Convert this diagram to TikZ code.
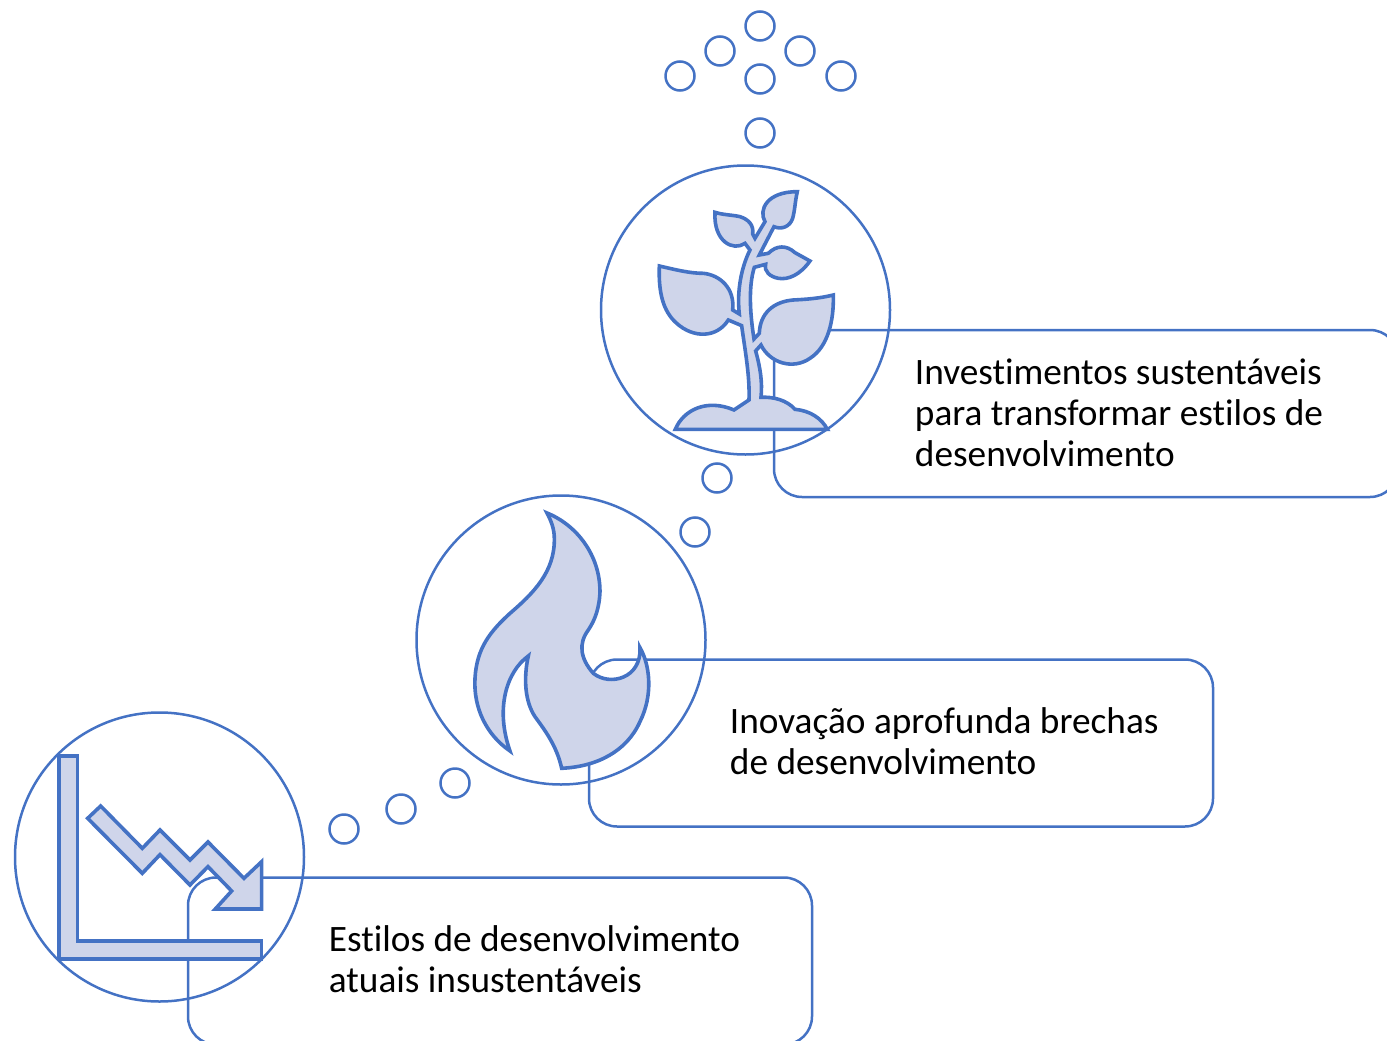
\documentclass[tikz,border=0pt]{standalone}
\usepackage{fontspec}
\setmainfont[RawFeature={-liga}]{Carlito}
\definecolor{lineblue}{HTML}{4472C4}
\definecolor{iconfill}{HTML}{CFD5EA}
\tikzset{
  bigcircle/.style={circle, draw=lineblue, line width=2.5pt, minimum size=289pt, inner sep=0pt},
  dotcircle/.style={circle, draw=lineblue, line width=2.5pt, minimum size=29pt, inner sep=0pt},
  infobox/.style={draw=lineblue, line width=2.5pt, rounded corners=28pt, minimum width=624pt, minimum height=167pt, inner sep=0pt},
  infotext/.style={anchor=west, align=left, inner sep=0pt, font=\fontsize{37.3}{41}\selectfont},
  icon/.style={draw=lineblue, fill=iconfill, line width=3.6pt, line join=miter}
}
\begin{document}
\begin{tikzpicture}[x=1pt,y=-1pt]
\useasboundingbox (0,0) rectangle (1387,1041);
% boxes
\node[infobox] (boxplant) at (1086,413.5) {};
\node[infobox] (boxflame) at (901,743) {};
\node[infobox] (boxchart) at (500,961) {};
\node[infotext] (textplant) at ([xshift=142pt, yshift=1pt]boxplant.west) {Investimentos sustentáveis\\para transformar estilos de\\desenvolvimento};
\node[infotext] (textflame) at ([xshift=142pt, yshift=2pt]boxflame.west) {Inovação aprofunda brechas\\de desenvolvimento};
\node[infotext] (textchart) at ([xshift=142pt, yshift=2pt]boxchart.west) {Estilos de desenvolvimento\\atuais insustentáveis};
% big circles
\node[bigcircle] (circplant) at (745.5,310) {};
\node[bigcircle] (circflame) at (561,640) {};
\node[bigcircle] (circchart) at (159.5,857) {};
% small circles
\node[dotcircle] (dota) at (760,26) {};
\node[dotcircle] (dotb) at (720,51) {};
\node[dotcircle] (dotc) at (800,51) {};
\node[dotcircle] (dotd) at (680,76) {};
\node[dotcircle] (dote) at (841,76) {};
\node[dotcircle] (dotf) at (760,79) {};
\node[dotcircle] (dotg) at (760,133) {};
\node[dotcircle] (doth) at (717,478) {};
\node[dotcircle] (doti) at (695,532) {};
\node[dotcircle] (dotj) at (455,783) {};
\node[dotcircle] (dotk) at (401,809) {};
\node[dotcircle] (dotl) at (344,829) {};
% plant
\begin{scope}[shift={(600,160)},x=0.3333pt,y=-0.3333pt]
\draw[icon] (226,808) .. controls (250,750) and (320,715) .. (402,750) -- (447,720)
  .. controls (450,650) and (435,570) .. (425,497) -- (385,480)
  .. controls (350,535) and (280,535) .. (230,490) .. controls (190,455) and (175,400) .. (178,318)
  .. controls (230,330) and (270,340) .. (310,340) .. controls (360,345) and (405,385) .. (398,450) -- (418,462)
  .. controls (410,390) and (425,320) .. (450,270) -- (435,250)
  .. controls (400,275) and (340,245) .. (345,157)
  .. controls (370,165) and (400,165) .. (420,170) .. controls (445,178) and (462,195) .. (458,222) -- (465,235) -- (495,185)
  .. controls (475,150) and (500,95) .. (592,95)
  .. controls (585,125) and (585,150) .. (578,175) .. controls (570,200) and (545,210) .. (522,200) -- (478,285) -- (505,280)
  .. controls (530,255) and (560,255) .. (585,278) -- (630,303)
  .. controls (600,345) and (565,360) .. (535,355) .. controls (510,350) and (492,335) .. (497,313) -- (463,322)
  .. controls (445,380) and (450,460) .. (462,537) -- (478,520)
  .. controls (480,460) and (520,425) .. (580,420) .. controls (620,418) and (660,415) .. (700,405)
  .. controls (702,480) and (685,560) .. (630,595) .. controls (580,630) and (510,610) .. (483,555) -- (467,573)
  .. controls (480,620) and (488,665) .. (483,712)
  .. controls (520,710) and (560,720) .. (585,748)
  .. controls (630,752) and (665,775) .. (682,808) -- cycle;
\end{scope}
% flame
\begin{scope}[shift={(420,495)},x=0.3333pt,y=-0.3333pt]
\draw[icon] (381,54) .. controls (470,90) and (540,180) .. (540,290)
  .. controls (538,340) and (525,375) .. (505,405)
  .. controls (475,445) and (480,490) .. (520,535)
  .. controls (570,575) and (665,550) .. (660,458)
  .. controls (690,510) and (700,600) .. (660,680)
  .. controls (620,770) and (530,815) .. (425,820)
  .. controls (410,750) and (370,700) .. (345,665)
  .. controls (315,620) and (310,550) .. (325,483)
  .. controls (260,530) and (225,640) .. (270,768)
  .. controls (200,720) and (160,640) .. (165,550)
  .. controls (170,460) and (210,410) .. (270,355)
  .. controls (340,295) and (405,230) .. (403,130)
  .. controls (403,100) and (392,75) .. (381,54) -- cycle;
\end{scope}
% chart
\begin{scope}[shift={(10,710)},x=0.3333pt,y=-0.3333pt]
\draw[icon] (147,138) -- (202,138) -- (202,693) -- (755,693) -- (755,747) -- (147,747) -- cycle;
\draw[icon] (233,325) -- (272,288) -- (397,415) -- (450,360) -- (540,450) -- (594,396) -- (702,505) -- (755,455) -- (755,597) -- (616,597) -- (665,543) -- (594,470) -- (540,525) -- (450,434) -- (397,490) -- cycle;
\end{scope}
\end{tikzpicture}
\end{document}
